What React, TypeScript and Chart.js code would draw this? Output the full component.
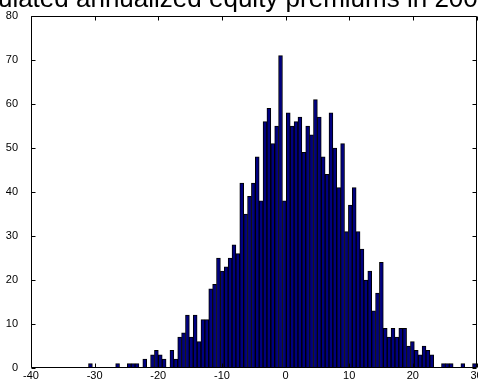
import { useEffect, useRef } from "react";
import { Chart, registerables } from "chart.js";

Chart.register(...registerables);

const TITLE = "Simulated annualized equity premiums in 2000 trials";

// Histogram bins: first bin centre and bin width (percent)
const BIN_START = -30.66;
const BIN_WIDTH = 0.6095;

// Number of simulations falling in each bin
const COUNTS = [
  1, 0, 0, 0, 0, 0, 0, 1, 0, 0,
  1, 1, 1, 0, 2, 0, 3, 4, 3, 2,
  0, 4, 2, 7, 8, 12, 7, 12, 6, 11,
  11, 18, 19, 25, 22, 23, 25, 28, 26, 42,
  35, 39, 42, 48, 38, 56, 59, 51, 55, 71,
  38, 58, 55, 56, 57, 49, 55, 53, 61, 57,
  48, 44, 58, 50, 41, 51, 31, 37, 41, 31,
  27, 20, 22, 13, 17, 24, 9, 7, 9, 7,
  9, 9, 5, 6, 4, 3, 5, 4, 3, 0,
  0, 1, 1, 1, 0, 0, 1, 0, 0, 1,
];

const X_TICKS = [-40, -30, -20, -10, 0, 10, 20, 30];
const Y_TICKS = [0, 10, 20, 30, 40, 50, 60, 70, 80];

const FONT = '"Liberation Sans", Arial, Helvetica, sans-serif';
const BAR_FILL = "#000080";
const TICK_LEN = 4;

// Title, x tick labels and the boxed axes with inward-pointing tick marks
const framePlugin = {
  id: "frame",
  afterDraw(chart: any) {
    const { ctx, chartArea: a, scales } = chart;
    ctx.save();
    ctx.strokeStyle = "#000";
    ctx.lineWidth = 1;
    const l = Math.round(a.left) + 0.5;
    const r = Math.round(a.right) - 0.5;
    const t = Math.round(a.top) + 0.5;
    const b = Math.round(a.bottom) - 0.5;
    ctx.beginPath();
    ctx.rect(l, t, r - l, b - t);
    for (const v of X_TICKS) {
      const px = Math.round(scales.x.getPixelForValue(v)) + 0.5;
      ctx.moveTo(px, b);
      ctx.lineTo(px, b - TICK_LEN);
      ctx.moveTo(px, t);
      ctx.lineTo(px, t + TICK_LEN);
    }
    for (const v of Y_TICKS) {
      const py = Math.round(scales.y.getPixelForValue(v)) + 0.5;
      ctx.moveTo(l, py);
      ctx.lineTo(l + TICK_LEN, py);
      ctx.moveTo(r, py);
      ctx.lineTo(r - TICK_LEN, py);
    }
    ctx.stroke();

    ctx.fillStyle = "#000";
    ctx.font = `11px ${FONT}`;
    ctx.textAlign = "center";
    ctx.textBaseline = "middle";
    for (const v of X_TICKS) {
      ctx.fillText(String(v), scales.x.getPixelForValue(v), b + 8.5);
    }

    ctx.font = `26px ${FONT}`;
    ctx.textBaseline = "alphabetic";
    ctx.fillText(TITLE, (a.left + a.right) / 2, 6.5);
    ctx.restore();
  },
};

export default function App() {
  const canvasRef = useRef<HTMLCanvasElement | null>(null);

  useEffect(() => {
    const canvas = canvasRef.current;
    if (!canvas) return;

    const points = COUNTS.map((c, i) => ({ x: BIN_START + i * BIN_WIDTH, y: c }));

    const chart = new Chart(canvas, {
      type: "bar",
      data: {
        datasets: [
          {
            data: points as any,
            backgroundColor: BAR_FILL,
            borderColor: "#000",
            borderWidth: 1,
            borderSkipped: false,
            barPercentage: 1,
            categoryPercentage: 1,
          },
        ],
      },
      options: {
        animation: false,
        responsive: false,
        devicePixelRatio: 1,
        layout: { padding: { top: 16, right: 1.5, left: 0, bottom: 0 } },
        plugins: {
          legend: { display: false },
          tooltip: { enabled: false },
          title: { display: false },
        },
        scales: {
          x: {
            type: "linear",
            min: -40,
            max: 30,
            offset: false,
            grid: { display: false, offset: false },
            border: { display: false },
            afterBuildTicks: (scale: any) => {
              scale.ticks = X_TICKS.map((v) => ({ value: v }));
            },
            afterFit: (scale: any) => {
              scale.height = 15;
              scale.paddingLeft = 0;
              scale.paddingRight = 0;
              scale.paddingTop = 0;
              scale.paddingBottom = 0;
            },
            ticks: { display: false },
          },
          y: {
            type: "linear",
            min: 0,
            max: 80,
            grid: { display: false },
            border: { display: false },
            afterBuildTicks: (scale: any) => {
              scale.ticks = Y_TICKS.map((v) => ({ value: v }));
            },
            afterFit: (scale: any) => {
              scale.width = 31;
              scale.paddingLeft = 0;
              scale.paddingRight = 0;
              scale.paddingTop = 0;
              scale.paddingBottom = 0;
            },
            ticks: {
              color: "#000",
              font: { family: FONT, size: 11 },
              padding: 5,
              autoSkip: false,
            },
          },
        },
      },
      plugins: [framePlugin],
    });

    return () => chart.destroy();
  }, []);

  return (
    <div style={{ position: "absolute", left: 0, top: 0, width: 478, height: 383, background: "#fff" }}>
      <canvas ref={canvasRef} width={478} height={383} style={{ width: 478, height: 383, display: "block" }} />
    </div>
  );
}
